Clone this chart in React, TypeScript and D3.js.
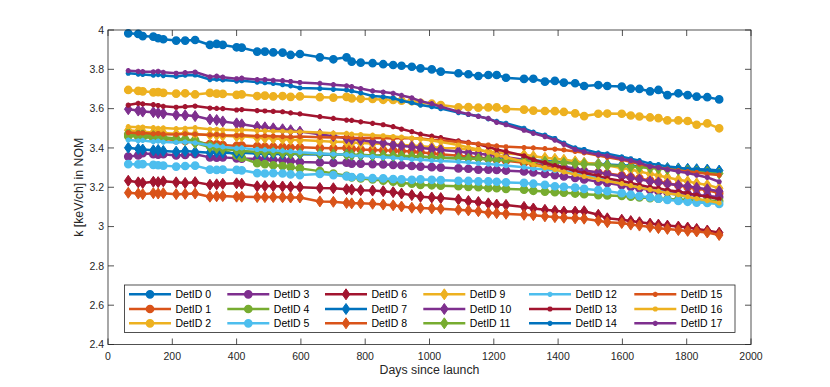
import React from "react";
import * as d3 from "d3";

// days since launch (shared by every detector)
const days = [63, 94, 108, 141, 156, 172, 212, 240, 271, 317, 338, 357, 400, 416, 464, 488, 514, 543, 568, 597,
  659, 701, 742, 758, 786, 823, 856, 887, 913, 945, 972, 1007, 1035, 1090, 1121, 1152, 1183, 1209, 1238, 1294,
  1323, 1359, 1390, 1418, 1453, 1481, 1525, 1553, 1598, 1626, 1653, 1686, 1712, 1740, 1774, 1803, 1831, 1864, 1901];

const k0 = [3.983, 3.980, 3.969, 3.966, 3.958, 3.953, 3.946, 3.946, 3.949, 3.924, 3.929, 3.924, 3.912, 3.910, 3.890, 3.890, 3.886, 3.885, 3.873, 3.878,
  3.861, 3.851, 3.861, 3.839, 3.834, 3.831, 3.826, 3.822, 3.818, 3.813, 3.805, 3.800, 3.788, 3.780, 3.775, 3.766, 3.771, 3.771, 3.757, 3.751,
  3.752, 3.737, 3.741, 3.732, 3.729, 3.715, 3.720, 3.715, 3.712, 3.702, 3.700, 3.688, 3.695, 3.669, 3.678, 3.669, 3.661, 3.658, 3.647];
const k1 = [3.466, 3.460, 3.458, 3.452, 3.448, 3.445, 3.440, 3.436, 3.430, 3.420, 3.418, 3.415, 3.410, 3.412, 3.408, 3.406, 3.405, 3.404, 3.402, 3.403,
  3.400, 3.398, 3.400, 3.395, 3.392, 3.390, 3.388, 3.386, 3.384, 3.382, 3.378, 3.372, 3.368, 3.360, 3.355, 3.350, 3.346, 3.340, 3.335, 3.325,
  3.318, 3.310, 3.305, 3.298, 3.290, 3.282, 3.275, 3.270, 3.260, 3.252, 3.245, 3.235, 3.228, 3.220, 3.210, 3.200, 3.192, 3.185, 3.170];
const k2 = [3.695, 3.690, 3.688, 3.683, 3.684, 3.680, 3.676, 3.678, 3.672, 3.680, 3.676, 3.675, 3.670, 3.672, 3.664, 3.666, 3.662, 3.664, 3.660, 3.662,
  3.658, 3.656, 3.660, 3.652, 3.650, 3.649, 3.645, 3.644, 3.640, 3.638, 3.630, 3.625, 3.618, 3.607, 3.608, 3.605, 3.606, 3.606, 3.598, 3.595,
  3.590, 3.588, 3.587, 3.583, 3.576, 3.562, 3.574, 3.575, 3.574, 3.565, 3.560, 3.555, 3.552, 3.540, 3.540, 3.537, 3.518, 3.525, 3.500];
const k3 = [3.356, 3.362, 3.373, 3.368, 3.366, 3.368, 3.362, 3.364, 3.368, 3.352, 3.350, 3.352, 3.347, 3.346, 3.344, 3.342, 3.340, 3.338, 3.334, 3.328,
  3.326, 3.324, 3.325, 3.320, 3.320, 3.318, 3.316, 3.314, 3.312, 3.308, 3.305, 3.302, 3.300, 3.296, 3.294, 3.290, 3.290, 3.288, 3.285, 3.280,
  3.275, 3.268, 3.262, 3.255, 3.248, 3.240, 3.228, 3.222, 3.210, 3.202, 3.195, 3.186, 3.180, 3.175, 3.170, 3.165, 3.160, 3.156, 3.150];
const k4 = [3.460, 3.458, 3.455, 3.452, 3.450, 3.448, 3.445, 3.442, 3.440, 3.410, 3.400, 3.390, 3.362, 3.350, 3.322, 3.318, 3.312, 3.308, 3.302, 3.296,
  3.282, 3.270, 3.258, 3.250, 3.245, 3.240, 3.234, 3.228, 3.222, 3.218, 3.212, 3.210, 3.208, 3.205, 3.202, 3.200, 3.196, 3.195, 3.192, 3.188,
  3.182, 3.178, 3.175, 3.172, 3.168, 3.165, 3.160, 3.158, 3.156, 3.152, 3.148, 3.145, 3.142, 3.140, 3.138, 3.135, 3.133, 3.132, 3.130];
const k5 = [3.318, 3.316, 3.318, 3.314, 3.312, 3.310, 3.305, 3.308, 3.310, 3.290, 3.288, 3.290, 3.288, 3.286, 3.272, 3.270, 3.272, 3.270, 3.265, 3.262,
  3.268, 3.262, 3.255, 3.252, 3.250, 3.246, 3.245, 3.242, 3.240, 3.238, 3.240, 3.238, 3.236, 3.233, 3.232, 3.230, 3.230, 3.228, 3.225, 3.222,
  3.218, 3.212, 3.205, 3.202, 3.198, 3.192, 3.185, 3.180, 3.170, 3.162, 3.155, 3.148, 3.142, 3.136, 3.130, 3.126, 3.122, 3.120, 3.115];
const k6 = [3.233, 3.225, 3.222, 3.228, 3.226, 3.230, 3.225, 3.222, 3.226, 3.213, 3.215, 3.218, 3.220, 3.218, 3.205, 3.206, 3.206, 3.204, 3.202, 3.200,
  3.196, 3.195, 3.190, 3.188, 3.185, 3.183, 3.180, 3.175, 3.168, 3.160, 3.152, 3.148, 3.145, 3.138, 3.130, 3.125, 3.118, 3.112, 3.110, 3.100,
  3.092, 3.085, 3.080, 3.076, 3.076, 3.078, 3.060, 3.042, 3.035, 3.028, 3.022, 3.015, 3.010, 3.005, 3.000, 2.995, 2.988, 2.980, 2.969];
const k7 = [3.401, 3.395, 3.392, 3.388, 3.390, 3.385, 3.381, 3.384, 3.380, 3.376, 3.378, 3.375, 3.373, 3.376, 3.372, 3.370, 3.371, 3.368, 3.370, 3.368,
  3.366, 3.365, 3.367, 3.364, 3.362, 3.360, 3.360, 3.358, 3.358, 3.356, 3.355, 3.352, 3.350, 3.348, 3.346, 3.345, 3.344, 3.342, 3.340, 3.338,
  3.336, 3.334, 3.330, 3.328, 3.326, 3.322, 3.320, 3.316, 3.312, 3.310, 3.306, 3.304, 3.300, 3.298, 3.296, 3.294, 3.292, 3.290, 3.285];
const k8 = [3.172, 3.168, 3.165, 3.170, 3.168, 3.170, 3.165, 3.166, 3.168, 3.152, 3.154, 3.155, 3.152, 3.152, 3.150, 3.150, 3.150, 3.149, 3.148, 3.148,
  3.128, 3.126, 3.120, 3.118, 3.118, 3.116, 3.112, 3.108, 3.102, 3.096, 3.094, 3.092, 3.090, 3.085, 3.082, 3.078, 3.070, 3.068, 3.065, 3.060,
  3.058, 3.052, 3.048, 3.045, 3.042, 3.040, 3.030, 3.022, 3.018, 3.010, 3.005, 2.998, 2.992, 2.988, 2.982, 2.978, 2.975, 2.970, 2.957];
const k9 = [3.490, 3.485, 3.482, 3.478, 3.480, 3.476, 3.472, 3.475, 3.470, 3.466, 3.465, 3.462, 3.458, 3.460, 3.452, 3.450, 3.448, 3.445, 3.442, 3.440,
  3.435, 3.432, 3.430, 3.428, 3.425, 3.422, 3.420, 3.418, 3.415, 3.412, 3.408, 3.405, 3.400, 3.398, 3.392, 3.388, 3.382, 3.378, 3.372, 3.365,
  3.358, 3.350, 3.345, 3.340, 3.332, 3.325, 3.318, 3.310, 3.298, 3.290, 3.280, 3.268, 3.260, 3.250, 3.238, 3.230, 3.220, 3.212, 3.195];
const k10 = [3.597, 3.590, 3.585, 3.582, 3.578, 3.575, 3.568, 3.566, 3.562, 3.545, 3.542, 3.535, 3.525, 3.520, 3.508, 3.505, 3.500, 3.495, 3.490, 3.483,
  3.470, 3.460, 3.449, 3.445, 3.440, 3.432, 3.425, 3.415, 3.410, 3.406, 3.400, 3.395, 3.390, 3.382, 3.376, 3.370, 3.365, 3.360, 3.352, 3.340,
  3.332, 3.322, 3.312, 3.305, 3.295, 3.285, 3.275, 3.268, 3.255, 3.248, 3.240, 3.230, 3.225, 3.218, 3.210, 3.205, 3.198, 3.190, 3.180];
const k11 = [3.475, 3.470, 3.468, 3.462, 3.458, 3.455, 3.448, 3.440, 3.425, 3.405, 3.400, 3.395, 3.388, 3.385, 3.380, 3.378, 3.378, 3.375, 3.372, 3.372,
  3.370, 3.368, 3.366, 3.365, 3.365, 3.362, 3.362, 3.360, 3.360, 3.358, 3.356, 3.352, 3.350, 3.348, 3.345, 3.345, 3.342, 3.340, 3.338, 3.335,
  3.332, 3.330, 3.326, 3.324, 3.320, 3.318, 3.315, 3.312, 3.308, 3.305, 3.302, 3.298, 3.295, 3.292, 3.288, 3.285, 3.280, 3.278, 3.270];
const k12 = [3.440, 3.436, 3.438, 3.432, 3.435, 3.430, 3.428, 3.430, 3.426, 3.412, 3.410, 3.405, 3.398, 3.400, 3.392, 3.390, 3.388, 3.385, 3.382, 3.378,
  3.372, 3.368, 3.366, 3.362, 3.360, 3.356, 3.352, 3.350, 3.346, 3.342, 3.340, 3.336, 3.334, 3.330, 3.326, 3.322, 3.318, 3.315, 3.310, 3.302,
  3.295, 3.290, 3.285, 3.280, 3.272, 3.265, 3.250, 3.242, 3.228, 3.218, 3.208, 3.195, 3.185, 3.170, 3.160, 3.150, 3.140, 3.128, 3.118];
const k13 = [3.618, 3.627, 3.624, 3.620, 3.616, 3.612, 3.607, 3.610, 3.613, 3.603, 3.601, 3.600, 3.593, 3.595, 3.590, 3.588, 3.586, 3.584, 3.578, 3.573,
  3.559, 3.550, 3.542, 3.540, 3.533, 3.525, 3.518, 3.508, 3.496, 3.483, 3.470, 3.460, 3.452, 3.436, 3.428, 3.418, 3.405, 3.392, 3.382, 3.360,
  3.340, 3.325, 3.310, 3.298, 3.282, 3.272, 3.258, 3.245, 3.232, 3.222, 3.212, 3.200, 3.195, 3.185, 3.178, 3.170, 3.160, 3.152, 3.140];
const k14 = [3.780, 3.776, 3.774, 3.770, 3.773, 3.768, 3.764, 3.770, 3.771, 3.748, 3.750, 3.746, 3.740, 3.742, 3.735, 3.732, 3.728, 3.722, 3.716, 3.705,
  3.702, 3.698, 3.695, 3.690, 3.680, 3.664, 3.660, 3.654, 3.640, 3.630, 3.618, 3.610, 3.600, 3.580, 3.570, 3.562, 3.548, 3.535, 3.525, 3.500,
  3.480, 3.465, 3.448, 3.425, 3.400, 3.392, 3.375, 3.370, 3.355, 3.345, 3.335, 3.320, 3.315, 3.305, 3.300, 3.292, 3.290, 3.285, 3.280];
const k15 = [3.478, 3.475, 3.476, 3.472, 3.474, 3.470, 3.468, 3.472, 3.470, 3.466, 3.468, 3.465, 3.463, 3.465, 3.460, 3.462, 3.460, 3.458, 3.456, 3.458,
  3.455, 3.453, 3.456, 3.452, 3.450, 3.452, 3.450, 3.448, 3.450, 3.449, 3.448, 3.442, 3.438, 3.430, 3.425, 3.420, 3.415, 3.410, 3.406, 3.402,
  3.400, 3.396, 3.394, 3.390, 3.382, 3.375, 3.362, 3.352, 3.340, 3.330, 3.318, 3.305, 3.300, 3.292, 3.285, 3.280, 3.275, 3.268, 3.262];
const k16 = [3.508, 3.505, 3.506, 3.503, 3.500, 3.502, 3.498, 3.500, 3.503, 3.495, 3.495, 3.492, 3.490, 3.492, 3.488, 3.487, 3.485, 3.485, 3.482, 3.482,
  3.478, 3.475, 3.474, 3.470, 3.468, 3.465, 3.462, 3.458, 3.455, 3.450, 3.445, 3.438, 3.430, 3.415, 3.402, 3.392, 3.378, 3.365, 3.352, 3.330,
  3.315, 3.300, 3.290, 3.278, 3.265, 3.255, 3.240, 3.232, 3.218, 3.208, 3.198, 3.188, 3.180, 3.170, 3.162, 3.152, 3.142, 3.132, 3.120];
const k17 = [3.793, 3.790, 3.788, 3.787, 3.790, 3.785, 3.780, 3.783, 3.786, 3.762, 3.765, 3.760, 3.752, 3.755, 3.748, 3.748, 3.744, 3.742, 3.738, 3.733,
  3.728, 3.722, 3.716, 3.712, 3.702, 3.690, 3.684, 3.678, 3.667, 3.655, 3.638, 3.625, 3.610, 3.584, 3.572, 3.560, 3.550, 3.530, 3.518, 3.490,
  3.474, 3.458, 3.440, 3.418, 3.392, 3.380, 3.366, 3.360, 3.344, 3.336, 3.325, 3.305, 3.300, 3.290, 3.280, 3.272, 3.262, 3.250, 3.228];

const series = [k0, k1, k2, k3, k4, k5, k6, k7, k8, k9, k10, k11, k12, k13, k14, k15, k16, k17];
const names = series.map((_, i) => `DetID ${i}`);
const colors = ["#0072BD", "#D95319", "#EDB120", "#7E2F8E", "#77AC30", "#4DBEEE", "#A2142F"];
const xTicks = [0, 200, 400, 600, 800, 1000, 1200, 1400, 1600, 1800, 2000];
const yTicks = [2.4, 2.6, 2.8, 3, 3.2, 3.4, 3.6, 3.8, 4];

const W = 830, H = 387;
const left = 108, right = 751, top = 30, bottom = 344.5;
const axisColor = "#262626";
const font = "'Liberation Sans', Arial, Helvetica, sans-serif";

const x = d3.scaleLinear().domain([0, 2000]).range([left, right]);
const y = d3.scaleLinear().domain([2.4, 4]).range([bottom, top]);

function Marker({ i, cx, cy }: { i: number; cx: number; cy: number }) {
  const c = colors[i % 7];
  if (i < 6) return <circle cx={cx} cy={cy} r={3.6} fill={c} stroke={c} strokeWidth={1.5} />;
  if (i < 12) {
    const d = `M${cx},${cy - 5.5}L${cx + 3.8},${cy}L${cx},${cy + 5.5}L${cx - 3.8},${cy}Z`;
    return <path d={d} fill={c} stroke={c} strokeWidth={1} />;
  }
  const s = 2.6;
  const d = `M${cx - s},${cy}H${cx + s}M${cx},${cy - s}V${cy + s}M${cx - s * 0.7},${cy - s * 0.7}L${cx + s * 0.7},${cy + s * 0.7}M${cx - s * 0.7},${cy + s * 0.7}L${cx + s * 0.7},${cy - s * 0.7}`;
  return <path d={d} stroke={c} strokeWidth={1.6} fill="none" />;
}

export default function App() {
  const line = d3.line<number>().x((_, j) => x(days[j])).y((v) => y(v));

  // legend layout: 6 columns x 3 rows, column-major
  const colX = [129, 227.3, 325, 423.3, 529, 634.3];
  const rowY = [294.3, 309, 323.3];

  return (
    <svg width={W} height={H} style={{ position: "absolute", left: 0, top: 0, background: "#fff" }} fontFamily={font}>
      <rect x={0} y={0} width={W} height={H} fill="#fff" />
      <rect x={left} y={top} width={right - left} height={bottom - top} fill="#fff" />

      {series.map((vals, i) => (
        <g key={i}>
          <path d={line(vals) || ""} fill="none" stroke={colors[i % 7]} strokeWidth={2.5} strokeLinejoin="round" />
          {vals.map((v, j) => (
            <Marker key={j} i={i} cx={x(days[j])} cy={y(v)} />
          ))}
        </g>
      ))}

      {/* axes box and ticks */}
      <rect x={left} y={top} width={right - left} height={bottom - top} fill="none" stroke={axisColor} strokeWidth={0.8} />
      {xTicks.map((t) => (
        <g key={"x" + t}>
          <line x1={x(t)} x2={x(t)} y1={bottom} y2={bottom - 6} stroke={axisColor} strokeWidth={0.8} />
          <line x1={x(t)} x2={x(t)} y1={top} y2={top + 6} stroke={axisColor} strokeWidth={0.8} />
          <text x={x(t)} y={bottom + 15} textAnchor="middle" fontSize={10.5} fill={axisColor}>{t}</text>
        </g>
      ))}
      {yTicks.map((t) => (
        <g key={"y" + t}>
          <line x1={left} x2={left + 6} y1={y(t)} y2={y(t)} stroke={axisColor} strokeWidth={0.8} />
          <line x1={right} x2={right - 6} y1={y(t)} y2={y(t)} stroke={axisColor} strokeWidth={0.8} />
          <text x={left - 4} y={y(t)} dy="0.35em" textAnchor="end" fontSize={10.5} fill={axisColor}>{d3.format("~g")(t)}</text>
        </g>
      ))}
      <text x={(left + right) / 2} y={373.5} textAnchor="middle" fontSize={12.3} fill={axisColor}>Days since launch</text>
      <text transform={`translate(82.5,${(top + bottom) / 2}) rotate(-90)`} textAnchor="middle" fontSize={12.3} fill={axisColor}>k [keV/ch] in NOM</text>

      {/* legend */}
      <rect x={124.5} y={285} width={610.5} height={47.5} fill="#fff" stroke={axisColor} strokeWidth={0.8} />
      {names.map((n, i) => {
        const col = Math.floor(i / 3), row = i % 3;
        const lx = colX[col], ly = rowY[row];
        return (
          <g key={n}>
            <line x1={lx} x2={lx + 42} y1={ly} y2={ly} stroke={colors[i % 7]} strokeWidth={2.5} />
            <Marker i={i} cx={lx + 21} cy={ly} />
            <text x={lx + 46.5} y={ly} dy="0.35em" fontSize={10.5} fill="#000">{n}</text>
          </g>
        );
      })}
    </svg>
  );
}
